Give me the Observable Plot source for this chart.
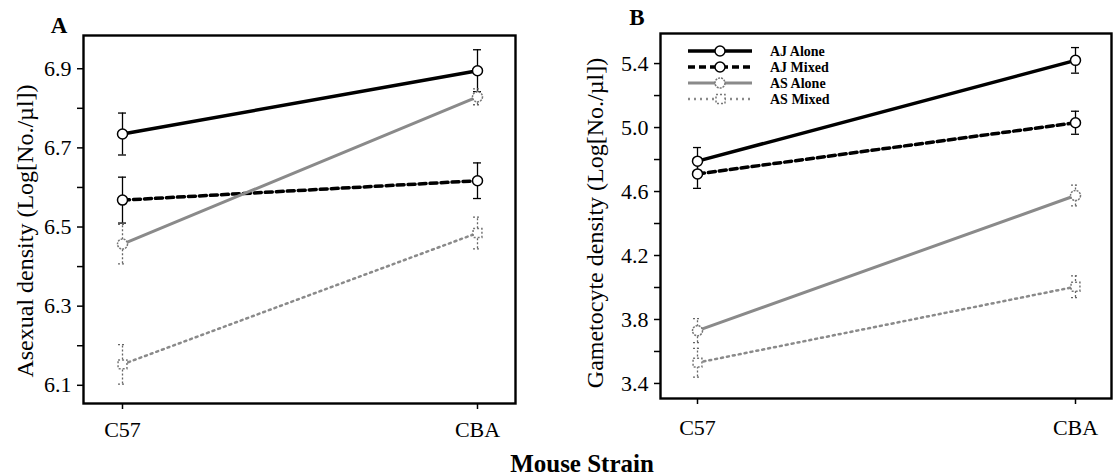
<!DOCTYPE html>
<html><head><meta charset="utf-8">
<script src="https://cdn.jsdelivr.net/npm/d3@7"></script>
<script src="https://cdn.jsdelivr.net/npm/@observablehq/plot@0.6"></script>
<style>
body{margin:0;background:#fff;}
#wrap{position:relative;width:1114px;height:476px;overflow:hidden;font-family:"Liberation Serif","Times New Roman",serif;}
#wrap > svg{position:absolute;top:0;}
</style></head><body><div id="wrap"></div>
<script>
// ---- data ----
const strains = ["C57", "CBA"];
const groups = ["AJ Alone", "AJ Mixed", "AS Alone", "AS Mixed"];
// Asexual density (panel A), per group: [C57, CBA]
const asexualMean = [[6.735, 6.895], [6.568, 6.617], [6.457, 6.829], [6.153, 6.485]];
const asexualErr  = [[0.053, 0.053], [0.058, 0.045], [0.05, 0.02], [0.05, 0.04]];
// Gametocyte density (panel B)
const gametMean = [[4.79, 5.42], [4.71, 5.03], [3.73, 4.575], [3.53, 4.005]];
const gametErr  = [[0.085, 0.08], [0.09, 0.072], [0.075, 0.065], [0.09, 0.068]];
// axis ticks
const ticksA = [6.1, 6.2, 6.3, 6.4, 6.5, 6.6, 6.7, 6.8, 6.9];
const labelsA = [6.1, 6.3, 6.5, 6.7, 6.9];
const ticksB = [3.4, 3.6, 3.8, 4.0, 4.2, 4.4, 4.6, 4.8, 5.0, 5.2, 5.4];
const labelsB = [3.4, 3.8, 4.2, 4.6, 5.0, 5.4];

const styles = {
  "AJ Alone": {stroke: "#000", sw: 3.5, dash: null, symbol: "circle", r: 5, mstroke: "#000", mdash: null, estroke: "#000", edash: null},
  "AJ Mixed": {stroke: "#000", sw: 3.5, dash: "7,4", symbol: "circle", r: 5, mstroke: "#000", mdash: null, estroke: "#000", edash: null},
  "AS Alone": {stroke: "#8a8a8a", sw: 3, dash: null, symbol: "circle", r: 5, mstroke: "#777", mdash: "2,1", estroke: "#666", edash: "2,2"},
  "AS Mixed": {stroke: "#8a8a8a", sw: 2.5, dash: "2,4", symbol: "square", r: 5, mstroke: "#777", mdash: "2,2", estroke: "#666", edash: "2,2"}
};

function rowsFrom(mean, err) {
  const rows = [];
  groups.forEach((g, gi) => strains.forEach((s, si) => rows.push({group: g, strain: s, mean: mean[gi][si], err: err[gi][si]})));
  return rows;
}

function panel(rows, o) {
  const marks = [
    Plot.axisY({ticks: o.ticks, tickFormat: d => o.labels.some(v => Math.abs(v - d) < 1e-9) ? d.toFixed(1) : "", tickSize: 6, tickPadding: 6, fontSize: 22, label: null, strokeWidth: 1.5}),
    Plot.axisX({tickSize: 6, tickPadding: o.xPad, fontSize: 22, label: null, strokeWidth: 1.5})
  ];
  for (const g of groups) {
    const st = styles[g];
    const d = rows.filter(r => r.group === g);
    marks.push(Plot.line(d, {x: "strain", y: "mean", stroke: st.stroke, strokeWidth: st.sw, strokeDasharray: st.dash}));
  }
  for (const g of groups) {
    const st = styles[g];
    const d = rows.filter(r => r.group === g);
    marks.push(
      Plot.ruleX(d, {x: "strain", y1: r => r.mean - r.err, y2: r => r.mean + r.err, stroke: st.estroke, strokeWidth: 1.3, strokeDasharray: st.edash}),
      Plot.ruleY(d, {x1: "strain", x2: "strain", y: r => r.mean + r.err, insetLeft: -4, insetRight: -4, stroke: st.estroke, strokeWidth: 1.3, strokeDasharray: st.edash}),
      Plot.ruleY(d, {x1: "strain", x2: "strain", y: r => r.mean - r.err, insetLeft: -4, insetRight: -4, stroke: st.estroke, strokeWidth: 1.3, strokeDasharray: st.edash})
    );
  }
  for (const g of groups) {
    const st = styles[g];
    const d = rows.filter(r => r.group === g);
    marks.push(Plot.dot(d, {x: "strain", y: "mean", symbol: st.symbol, r: st.r, fill: "white", stroke: st.mstroke, strokeWidth: 1.5, strokeDasharray: st.mdash}));
  }
  marks.push(Plot.frame({stroke: "#000", strokeWidth: 2.4}));
  return Plot.plot({
    width: o.width, height: 476,
    marginLeft: o.ml, marginRight: o.mr, marginTop: o.mt, marginBottom: 476 - o.bottom,
    x: {type: "point", domain: strains, padding: o.pad},
    y: {domain: o.yDomain},
    style: {fontFamily: "Liberation Serif, serif", fontSize: "22px", color: "#000", background: "transparent", maxWidth: "none", overflow: "visible"},
    marks
  });
}

const wrap = document.getElementById("wrap");
const A = panel(rowsFrom(asexualMean, asexualErr), {width: 545, ml: 83, mr: 30, mt: 35, bottom: 403, pad: 0.107, yDomain: [6.054, 6.984], ticks: ticksA, labels: labelsA, xPad: 12});
A.style.left = "0px";
wrap.appendChild(A);
const B = panel(rowsFrom(gametMean, gametErr), {width: 569, ml: 115, mr: 3, mt: 33, bottom: 398, pad: 0.095, yDomain: [3.306, 5.588], ticks: ticksB, labels: labelsB, xPad: 15});
B.style.left = "545px";
wrap.appendChild(B);

// ---- overlay: titles, panel letters, legend ----
const svg = d3.create("svg").attr("width", 1114).attr("height", 476).style("left", "0px")
  .attr("font-family", "Liberation Serif, serif").attr("fill", "#000");
svg.append("text").attr("transform", "translate(33,231) rotate(-90)").attr("text-anchor", "middle").attr("font-size", 24).text("Asexual density (Log[No./µl])");
svg.append("text").attr("transform", "translate(603,223) rotate(-90)").attr("text-anchor", "middle").attr("font-size", 24).text("Gametocyte density (Log[No./µl])");
svg.append("text").attr("x", 582).attr("y", 472).attr("text-anchor", "middle").attr("font-size", 25).attr("font-weight", "bold").text("Mouse Strain");
svg.append("text").attr("x", 59).attr("y", 33).attr("text-anchor", "middle").attr("font-size", 23).attr("font-weight", "bold").text("A");
svg.append("text").attr("x", 637).attr("y", 25).attr("text-anchor", "middle").attr("font-size", 23).attr("font-weight", "bold").text("B");

const legY = [51, 67, 83, 99];
groups.forEach((g, i) => {
  const st = styles[g];
  const y = legY[i];
  svg.append("line").attr("x1", 688).attr("x2", 752).attr("y1", y).attr("y2", y)
    .attr("stroke", st.stroke).attr("stroke-width", st.sw).attr("stroke-dasharray", st.dash);
  if (st.symbol === "square") {
    svg.append("rect").attr("x", 716).attr("y", y - 4.5).attr("width", 9).attr("height", 9)
      .attr("fill", "white").attr("stroke", st.mstroke).attr("stroke-width", 1.5).attr("stroke-dasharray", st.mdash);
  } else {
    svg.append("circle").attr("cx", 720).attr("cy", y).attr("r", 5)
      .attr("fill", "white").attr("stroke", st.mstroke).attr("stroke-width", 1.5).attr("stroke-dasharray", st.mdash);
  }
  svg.append("text").attr("x", 770).attr("y", y).attr("dy", "0.35em").attr("font-size", 14).attr("font-weight", "bold").text(g);
});
wrap.appendChild(svg.node());
</script>
</body></html>
